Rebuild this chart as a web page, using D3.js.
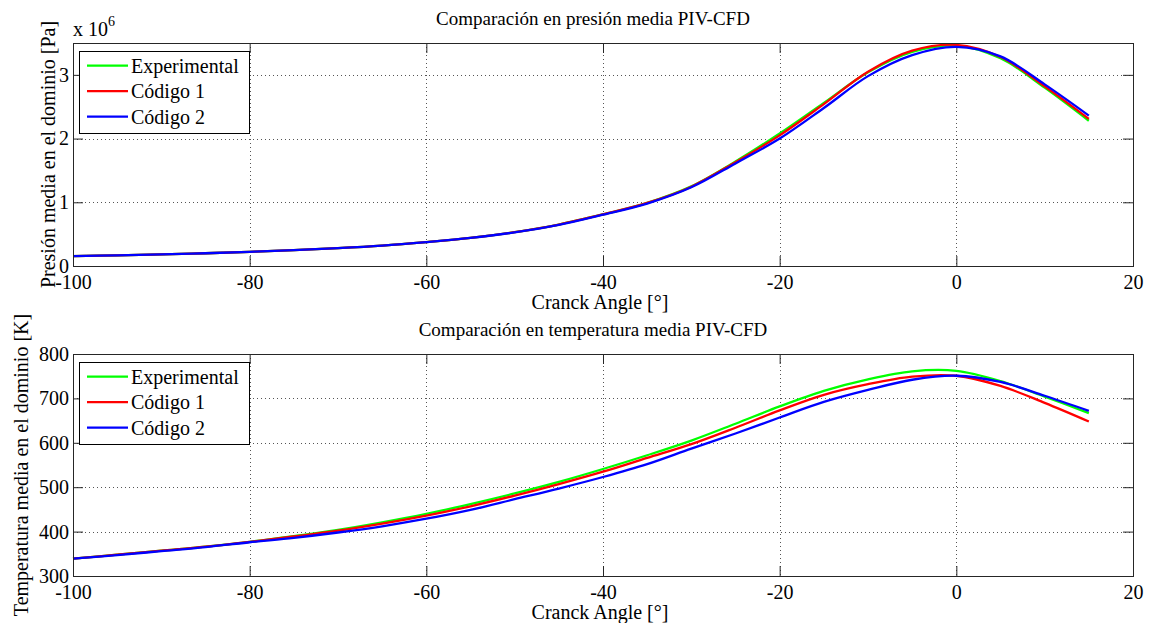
<!DOCTYPE html>
<html><head><meta charset="utf-8">
<script src="https://cdn.jsdelivr.net/npm/d3@7/dist/d3.min.js"></script>
<style>
body{margin:0;background:#fff}
text{font-family:"Liberation Serif","Times New Roman",serif;fill:#000}
</style>
</head><body>
<svg id="chart" width="1151" height="623"></svg>
<script>
// ---- data ----
const angles = [-100,-95,-90,-85,-80,-75,-70,-65,-60,-55,-50,-45,-40,-35,-30,-25,-20,-15,-10,-5,0,5,10,15];
// mean pressure [Pa]
const presExp  = [0.155e6,0.168e6,0.183e6,0.200e6,0.222e6,0.248e6,0.280e6,0.320e6,0.375e6,0.440e6,0.530e6,0.650e6,0.810e6,0.990e6,1.250e6,1.640e6,2.080e6,2.560e6,3.040e6,3.360e6,3.460e6,3.260e6,2.800e6,2.280e6];
const presCod1 = [0.155e6,0.168e6,0.183e6,0.200e6,0.222e6,0.248e6,0.280e6,0.320e6,0.375e6,0.440e6,0.530e6,0.650e6,0.810e6,0.990e6,1.245e6,1.630e6,2.050e6,2.540e6,3.050e6,3.380e6,3.470e6,3.280e6,2.820e6,2.310e6];
const presCod2 = [0.155e6,0.168e6,0.183e6,0.200e6,0.222e6,0.248e6,0.280e6,0.320e6,0.375e6,0.440e6,0.528e6,0.645e6,0.805e6,0.980e6,1.235e6,1.610e6,2.000e6,2.480e6,2.980e6,3.310e6,3.440e6,3.290e6,2.850e6,2.360e6];
// mean temperature [K]
const tempExp  = [339,348,357,366,377,390,404,421,440,462,486,512,541,572,605,643,682,717,743,761,762,739,704,667];
const tempCod1 = [339,348,357,366,377,389,402,418,436,457,481,507,535,566,597,634,673,708,732,749,751,728,690,648];
const tempCod2 = [339,347,356,365,376,386,398,412,429,449,473,497,523,552,587,621,657,692,719,742,751,737,706,672];

const seriesNames  = ["Experimental","Código 1","Código 2"];
const seriesColors = ["#00ff00","#ff0000","#0000ff"];

const xTicks    = [-100,-80,-60,-40,-20,0,20];
const presTicks = [0,1e6,2e6,3e6];
const tempTicks = [300,400,500,600,700,800];

const titles  = ["Comparación en presión media PIV-CFD","Comparación en temperatura media PIV-CFD"];
const ylabels = ["Presión media en el dominio [Pa]","Temperatura media en el dominio [K]"];
const xlabel  = "Cranck Angle [°]";

// ---- drawing ----
const FONT = '"Liberation Serif","Times New Roman",serif';
const svg = d3.select("#chart");
svg.append("rect").attr("width",1151).attr("height",623).attr("fill","#fff");

function panel(cfg){
  const L=73, R=1133, T=cfg.top, B=cfg.bottom;
  const x = d3.scaleLinear().domain([-100,20]).range([L,R]);
  const y = d3.scaleLinear().domain(cfg.yDomain).range([B,T]);
  const g = svg.append("g");

  // grid
  const grid = g.append("g").attr("stroke","#555").attr("stroke-width",1).attr("stroke-dasharray","1,3");
  grid.selectAll("line.v").data(xTicks.slice(1,-1)).join("line")
    .attr("x1",d=>Math.round(x(d))+0.5).attr("x2",d=>Math.round(x(d))+0.5).attr("y1",T).attr("y2",B);
  grid.selectAll("line.h").data(cfg.yTicks.filter(d=>d>cfg.yDomain[0] && d<cfg.yDomain[1])).join("line")
    .attr("y1",d=>Math.round(y(d))+0.5).attr("y2",d=>Math.round(y(d))+0.5).attr("x1",L).attr("x2",R);

  // axes
  const ax = (gen, tr) => {
    const a = g.append("g").attr("transform",tr).call(gen);
    a.attr("font-family",FONT).attr("font-size",20);
    a.select(".domain").remove();
    a.selectAll(".tick line").attr("stroke","#262626");
    a.selectAll("text").style("font-family",FONT).style("font-size","20px").attr("fill","#000");
    return a;
  };
  ax(d3.axisBottom(x).tickValues(xTicks).tickSizeInner(-10).tickSizeOuter(0).tickPadding(9).tickFormat(d=>String(d)), `translate(0,${B})`);
  ax(d3.axisTop(x).tickValues(xTicks).tickSizeInner(-10).tickSizeOuter(0).tickFormat(""), `translate(0,${T})`);
  ax(d3.axisLeft(y).tickValues(cfg.yTicks).tickSizeInner(-10).tickSizeOuter(0).tickPadding(4).tickFormat(cfg.fmt), `translate(${L},0)`);
  ax(d3.axisRight(y).tickValues(cfg.yTicks).tickSizeInner(-10).tickSizeOuter(0).tickFormat(""), `translate(${R},0)`);

  // lines
  const line = d3.line().x((d,i)=>x(angles[i])).y(d=>y(d)).curve(d3.curveCatmullRom.alpha(0.5));
  cfg.series.forEach((s,i)=>{
    g.append("path").attr("d",line(s)).attr("fill","none")
      .attr("stroke",seriesColors[i]).attr("stroke-width",2.3);
  });

  // box
  g.append("rect").attr("x",L+0.5).attr("y",T+0.5).attr("width",R-L).attr("height",B-T)
    .attr("fill","none").attr("stroke","#262626").attr("stroke-width",1);

  // title
  g.append("text").attr("x",593).attr("y",T-18).attr("text-anchor","middle")
    .style("font-size","19px").text(cfg.title);
  // xlabel
  g.append("text").attr("x",(L+R)/2-3).attr("y",B+43).attr("text-anchor","middle")
    .style("font-size","20px").text(xlabel);
  // ylabel
  g.append("text").attr("transform",`translate(${cfg.ylx},${(T+B)/2}) rotate(-90)`)
    .attr("text-anchor","middle").style("font-size","20px").text(cfg.ylabel);

  // legend
  const lg = g.append("g");
  lg.append("rect").attr("x",79.5).attr("y",T+8.5).attr("width",170).attr("height",82)
    .attr("fill","#fff").attr("stroke","#000").attr("stroke-width",1);
  seriesNames.forEach((n,i)=>{
    const yy = T+22.7+i*25.5;
    lg.append("line").attr("x1",87).attr("x2",128).attr("y1",yy).attr("y2",yy)
      .attr("stroke",seriesColors[i]).attr("stroke-width",2.3);
    lg.append("text").attr("x",131).attr("y",yy).attr("dy","0.35em").style("font-size","20px").text(n);
  });
  return g;
}

const g1 = panel({top:43,bottom:266,yDomain:[0,3.5e6],yTicks:presTicks,fmt:d=>String(d/1e6),
  series:[presExp,presCod1,presCod2],title:titles[0],ylabel:ylabels[0],ylx:55});
// exponent label
const ex = g1.append("text").attr("x",73).attr("y",36).style("font-size","20px");
ex.append("tspan").text("x 10");
ex.append("tspan").attr("dy",-10).style("font-size","14px").text("6");

panel({top:354,bottom:576,yDomain:[300,800],yTicks:tempTicks,fmt:d=>String(d),
  series:[tempExp,tempCod1,tempCod2],title:titles[1],ylabel:ylabels[1],ylx:28});
</script>
</body></html>
